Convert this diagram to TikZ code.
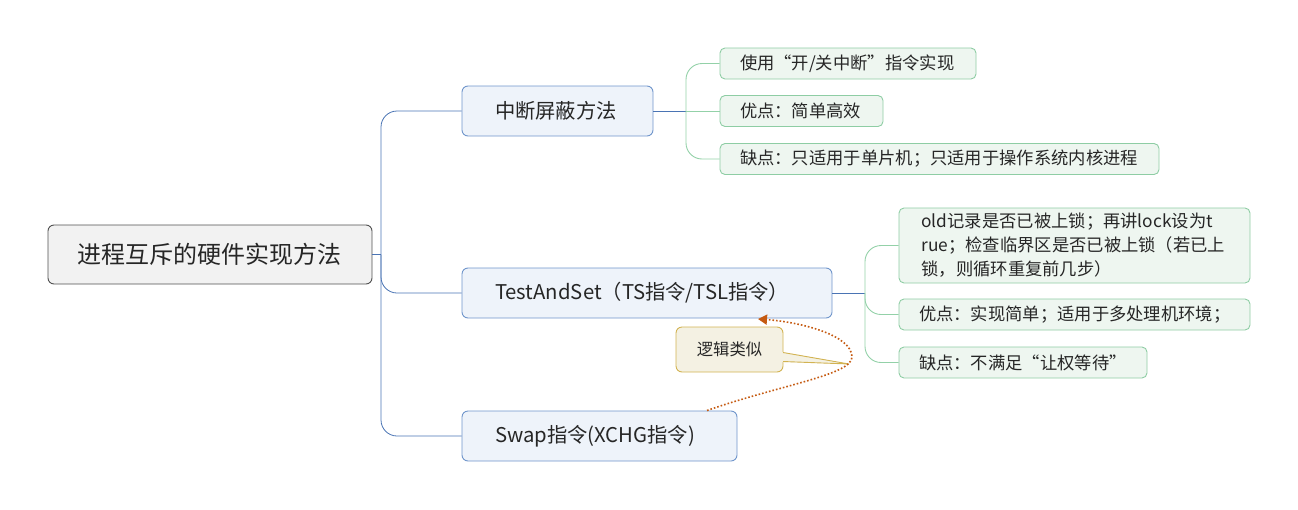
\documentclass[tikz,border=0pt]{standalone}
\usepackage{fontspec}
\setmainfont{Noto Sans CJK SC}
\usetikzlibrary{arrows.meta}
\definecolor{bluec}{HTML}{4A74B4}
\definecolor{bfill}{HTML}{EEF3FA}
\definecolor{bdraw}{HTML}{6F95CB}
\definecolor{gfill}{HTML}{EEF6F0}
\definecolor{gdraw}{HTML}{8ECDA4}
\definecolor{gline}{HTML}{93D1A8}
\definecolor{rfill}{HTML}{F2F2F2}
\definecolor{rdraw}{HTML}{505050}
\definecolor{cfill}{HTML}{F4F1E3}
\definecolor{cdraw}{HTML}{D2B352}
\definecolor{dotc}{HTML}{C55A11}
\definecolor{txt}{HTML}{262626}
\tikzset{
  rootbox/.style={draw=rdraw, fill=rfill, rounded corners=6pt, line width=0.9pt, text=txt,
    font=\fontsize{24}{28}\selectfont, minimum width=324pt, minimum height=59pt,
    inner xsep=29pt, inner ysep=0pt, text width=266pt, align=left},
  branchbox/.style={draw=bdraw, fill=bfill, rounded corners=6pt, line width=0.9pt, text=txt,
    font=\fontsize{20.3}{24}\selectfont, minimum height=50pt, inner xsep=33pt, inner ysep=0pt, align=left},
  leafbox/.style={draw=gdraw, fill=gfill, rounded corners=5pt, line width=0.9pt, text=txt,
    font=\fontsize{17.3}{24}\selectfont, minimum height=31pt, inner xsep=20pt, inner ysep=0pt, align=left},
  callbox/.style={draw=cdraw, fill=cfill, rounded corners=6pt, line width=0.9pt, text=txt,
    font=\fontsize{16.3}{19}\selectfont, minimum width=107pt, minimum height=45pt, inner sep=0pt},
  bconn/.style={draw=bluec, line width=0.8pt, rounded corners=16pt},
  gconn/.style={draw=gline, line width=0.9pt, rounded corners=16pt},
}
\begin{document}
\begin{tikzpicture}[x=1pt,y=-1pt]
\useasboundingbox (0,0) rectangle (1298,509);
% root
\node[rootbox] (root) at (210,254.5) {进程互斥的硬件实现方法};
% branches
\node[branchbox, text width=125pt] (b1) at (557.5,111) {中断屏蔽方法};
\node[branchbox, text width=304pt] (b2) at (647,293) {TestAndSet（TS指令/TSL指令）};
\node[branchbox, text width=209pt] (b3) at (599.5,436) {Swap指令(XCHG指令)};
% leaves
\node[leafbox, text width=216pt] (l1a) at (848,63.5) {使用“开/关中断”指令实现};
\node[leafbox, text width=123pt] (l1b) at (801.5,111) {优点：简单高效};
\node[leafbox, text width=399pt] (l1c) at (939.5,159) {缺点：只适用于单片机；只适用于操作系统内核进程};
\node[leafbox, text width=328pt, inner xsep=11.5pt, minimum height=75pt] (l2a) at (1074.5,245.5)
  {\hspace*{11pt}old记录是否已被上锁；再讲lock设为t\\\hspace*{11pt}rue；检查临界区是否已被上锁（若已上\\\hspace*{11pt}锁，则循环重复前几步）};
\node[leafbox, text width=311pt] (l2b) at (1074.5,314.5) {优点：实现简单；适用于多处理机环境；};
\node[leafbox, text width=208pt] (l2c) at (1023,362.5) {缺点：不满足“让权等待”};
% callout
\node[callbox] (call) at (729.5,349.5) {逻辑类似};
% root connectors
\coordinate (sp) at (381,254.5);
\draw[bconn] (root.east) -- (sp);
\draw[bconn] (b1.west) -- (381,111) -- (381,436) -- (b3.west);
\draw[bconn] (sp) -- (381,293) -- (b2.west);
% branch 1 leaves
\coordinate (g1) at (686,111);
\draw[bconn] (b1.east) -- (g1);
\draw[gconn] (l1a.west) -- (686,63.5) -- (686,159) -- (l1c.west);
\draw[gconn] (g1) -- (l1b.west);
% branch 2 leaves
\coordinate (g2) at (865,293);
\draw[bconn] (b2.east) -- (g2);
\draw[gconn] (l2a.west) -- (865,245.5) -- (865,362.5) -- (l2c.west);
\draw[gconn] (g2) -- (865,314.5) -- (l2b.west);
% callout pointer
\coordinate (tip) at (849,364);
\fill[cfill] (782,352) -- (tip) -- (782,362) -- cycle;
\draw[cdraw, line width=0.9pt] (783,352.5) -- (tip) -- (783,361.5);
% dotted relation
\coordinate (s) at (707,410.5);
\coordinate (e) at (758,319);
\coordinate (m) at (852,357);
\draw[dotc, line width=1.6pt, dotted, -{Triangle[width=10pt,length=9pt]}]
  (s) .. controls (780,385) and (852,375) .. (m)
      .. controls (852,335) and (800,322) .. (e);
\end{tikzpicture}
\end{document}
